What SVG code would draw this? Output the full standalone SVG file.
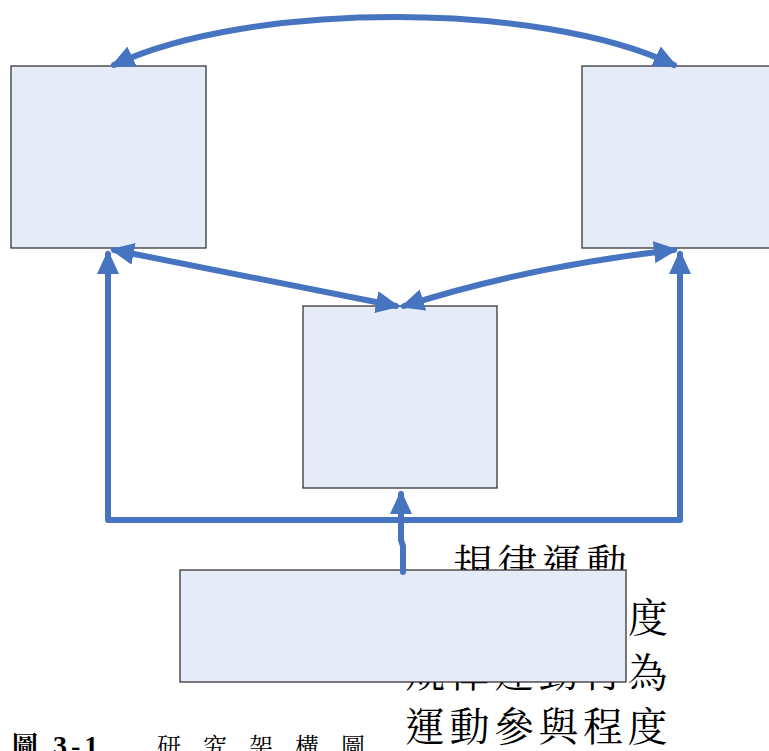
<svg xmlns="http://www.w3.org/2000/svg" width="769" height="751" viewBox="0 0 769 751">
<style>
.box{fill:#E5ECF7;stroke:#262626;stroke-width:1.2}
.con{fill:none;stroke:#4674C1;stroke-width:6;stroke-linejoin:round;stroke-linecap:round}
.cjk{font-family:"Noto Serif CJK TC","Noto Sans CJK TC",serif;fill:#000}
.body{font-size:40px;letter-spacing:4.5px}
</style>
<defs>
<marker id="ah" viewBox="0 0 24 22" refX="20" refY="11" markerWidth="24" markerHeight="22" markerUnits="userSpaceOnUse" orient="auto-start-reverse">
<path d="M0,0 L24,11 L0,22 z" fill="#4674C1"/>
</marker>
</defs>
<g id="texts">
<text class="cjk body" x="453" y="578">規律運動</text>
<text class="cjk body" x="628" y="632">度</text>
<text class="cjk body" x="405" y="687">規律運動行為</text>
<text class="cjk body" x="405" y="741">運動參與程度</text>
<text class="cjk" x="12" y="755" font-size="26" font-weight="bold">圖</text>
<text x="53" y="755" font-family="Liberation Serif,serif" font-size="28" font-weight="bold" letter-spacing="4">3-1</text>
<text class="cjk" x="157" y="755" font-size="24" letter-spacing="22">研究架構圖</text>
</g>
<g id="nodeLeft"><rect class="box" x="11" y="66" width="195" height="182"/></g>
<g id="nodeRight"><rect class="box" x="582" y="66" width="195" height="182"/></g>
<g id="nodeCenter"><rect class="box" x="303" y="306" width="194" height="182"/></g>
<g id="nodeBottom"><rect class="box" x="180" y="570" width="446" height="112"/></g>
<g id="connectors">
<path class="con" d="M114,65 C250,1 540,1 674,65" marker-start="url(#ah)" marker-end="url(#ah)"/>
<path class="con" d="M114,250 L396,306" marker-start="url(#ah)" marker-end="url(#ah)"/>
<path class="con" d="M404,306 Q530,266 674,250" marker-start="url(#ah)" marker-end="url(#ah)"/>
<path class="con" d="M108,254 L108,520 L680,520 L680,254" marker-start="url(#ah)" marker-end="url(#ah)"/>
<path class="con" d="M403,572 L403,546 L401,540 L401,494" marker-end="url(#ah)"/>
</g>
</svg>
